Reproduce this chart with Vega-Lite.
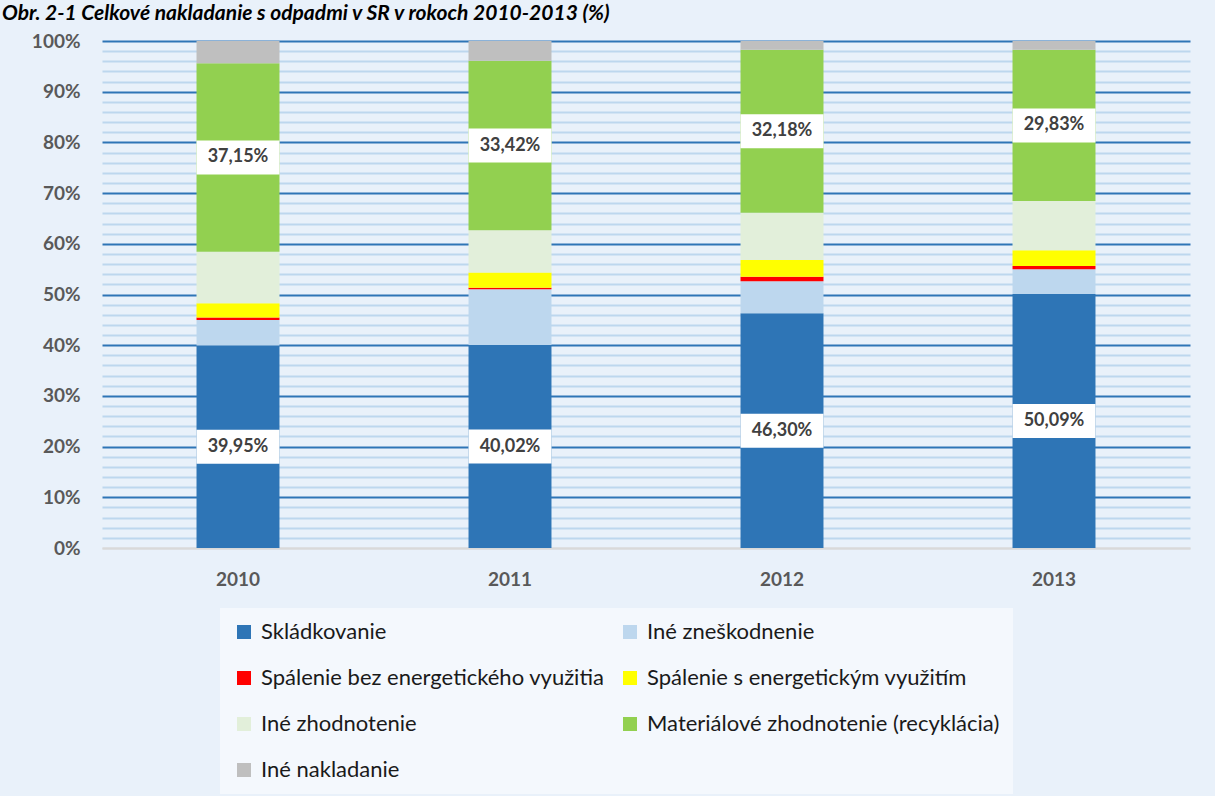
{
  "$schema": "https://vega.github.io/schema/vega-lite/v6.json",
  "autosize": {"type": "none"},
  "width": 1088,
  "height": 507,
  "padding": {"left": 102, "top": 41, "right": 25, "bottom": 248},
  "background": "#E9F1FA",
  "title": {
    "text": "Obr. 2-1 Celkové nakladanie s odpadmi v SR v rokoch 2010-2013 (%)",
    "anchor": "start",
    "frame": "group",
    "dx": -100,
    "dy": 27,
    "offset": 18,
    "baseline": "alphabetic",
    "font": "Lato",
    "fontSize": 21,
    "fontWeight": "bold",
    "fontStyle": "italic",
    "color": "#000000"
  },
  "data": {
    "values": [
      {"rok": "2010", "kategoria": "Skládkovanie", "poradie": 1, "hodnota": 0.3995},
      {"rok": "2010", "kategoria": "Iné zneškodnenie", "poradie": 2, "hodnota": 0.050},
      {"rok": "2010", "kategoria": "Spálenie bez energetického využitia", "poradie": 3, "hodnota": 0.005},
      {"rok": "2010", "kategoria": "Spálenie s energetickým využitím", "poradie": 4, "hodnota": 0.028},
      {"rok": "2010", "kategoria": "Iné zhodnotenie", "poradie": 5, "hodnota": 0.102},
      {"rok": "2010", "kategoria": "Materiálové zhodnotenie (recyklácia)", "poradie": 6, "hodnota": 0.3715},
      {"rok": "2010", "kategoria": "Iné nakladanie", "poradie": 7, "hodnota": 0.044},
      {"rok": "2011", "kategoria": "Skládkovanie", "poradie": 1, "hodnota": 0.4002},
      {"rok": "2011", "kategoria": "Iné zneškodnenie", "poradie": 2, "hodnota": 0.110},
      {"rok": "2011", "kategoria": "Spálenie bez energetického využitia", "poradie": 3, "hodnota": 0.003},
      {"rok": "2011", "kategoria": "Spálenie s energetickým využitím", "poradie": 4, "hodnota": 0.030},
      {"rok": "2011", "kategoria": "Iné zhodnotenie", "poradie": 5, "hodnota": 0.0835},
      {"rok": "2011", "kategoria": "Materiálové zhodnotenie (recyklácia)", "poradie": 6, "hodnota": 0.3342},
      {"rok": "2011", "kategoria": "Iné nakladanie", "poradie": 7, "hodnota": 0.039},
      {"rok": "2012", "kategoria": "Skládkovanie", "poradie": 1, "hodnota": 0.4630},
      {"rok": "2012", "kategoria": "Iné zneškodnenie", "poradie": 2, "hodnota": 0.063},
      {"rok": "2012", "kategoria": "Spálenie bez energetického využitia", "poradie": 3, "hodnota": 0.009},
      {"rok": "2012", "kategoria": "Spálenie s energetickým využitím", "poradie": 4, "hodnota": 0.033},
      {"rok": "2012", "kategoria": "Iné zhodnotenie", "poradie": 5, "hodnota": 0.093},
      {"rok": "2012", "kategoria": "Materiálové zhodnotenie (recyklácia)", "poradie": 6, "hodnota": 0.3218},
      {"rok": "2012", "kategoria": "Iné nakladanie", "poradie": 7, "hodnota": 0.017},
      {"rok": "2013", "kategoria": "Skládkovanie", "poradie": 1, "hodnota": 0.5009},
      {"rok": "2013", "kategoria": "Iné zneškodnenie", "poradie": 2, "hodnota": 0.049},
      {"rok": "2013", "kategoria": "Spálenie bez energetického využitia", "poradie": 3, "hodnota": 0.0065},
      {"rok": "2013", "kategoria": "Spálenie s energetickým využitím", "poradie": 4, "hodnota": 0.031},
      {"rok": "2013", "kategoria": "Iné zhodnotenie", "poradie": 5, "hodnota": 0.097},
      {"rok": "2013", "kategoria": "Materiálové zhodnotenie (recyklácia)", "poradie": 6, "hodnota": 0.2983},
      {"rok": "2013", "kategoria": "Iné nakladanie", "poradie": 7, "hodnota": 0.0173}
    ]
  },
  "layer": [
    {
      "mark": {"type": "bar", "stroke": null},
      "encoding": {
        "x": {
          "field": "rok", "type": "nominal",
          "scale": {"paddingInner": 0.695, "paddingOuter": 0.3475},
          "axis": {
            "title": null, "labelAngle": 0, "ticks": false,
            "domainColor": "#D9D9D9", "domainWidth": 2,
            "labelFont": "Lato", "labelFontSize": 19, "labelFontWeight": "bold",
            "labelColor": "#595959", "labelPadding": 22
          }
        },
        "y": {
          "field": "hodnota", "type": "quantitative", "stack": "zero",
          "scale": {"domain": [0, 1], "clamp": true, "nice": false},
          "axis": {
            "title": null,
            "values": [0,0.02,0.04,0.06,0.08,0.1,0.12,0.14,0.16,0.18,0.2,0.22,0.24,0.26,0.28,0.3,0.32,0.34,0.36,0.38,0.4,0.42,0.44,0.46,0.48,0.5,0.52,0.54,0.56,0.58,0.6,0.62,0.64,0.66,0.68,0.7,0.72,0.74,0.76,0.78,0.8,0.82,0.84,0.86,0.88,0.9,0.92,0.94,0.96,0.98,1],
            "tickCount": 100,
            "format": ".0%",
            "labelExpr": "round(datum.value*100) % 10 === 0 ? datum.label : ''",
            "labelOverlap": false,
            "ticks": false, "domain": false,
            "grid": true,
            "gridColor": {"condition": [{"test": "round(datum.value*100) === 0", "value": "#D9D9D9"}, {"test": "round(datum.value*100) % 10 === 0", "value": "#2E75B6"}], "value": "#BDD7EE"},
            "gridWidth": 2,
            "labelFont": "Lato", "labelFontSize": 19, "labelFontWeight": "bold",
            "labelColor": "#595959", "labelPadding": 22
          }
        },
        "color": {
          "field": "kategoria", "type": "nominal",
          "sort": ["Skládkovanie", "Iné zneškodnenie", "Spálenie bez energetického využitia", "Spálenie s energetickým využitím", "Iné zhodnotenie", "Materiálové zhodnotenie (recyklácia)", "Iné nakladanie"],
          "scale": {
            "domain": ["Skládkovanie", "Iné zneškodnenie", "Spálenie bez energetického využitia", "Spálenie s energetickým využitím", "Iné zhodnotenie", "Materiálové zhodnotenie (recyklácia)", "Iné nakladanie"],
            "range": ["#2E75B6", "#BDD7EE", "#FF0000", "#FFFF00", "#E2EFDA", "#92D050", "#BFBFBF"]
          },
          "legend": {
            "title": null,
            "orient": "none",
            "direction": "horizontal",
            "legendX": 118,
            "legendY": 567,
            "columns": 2,
            "columnPadding": 14,
            "rowPadding": 24,
            "padding": 13,
            "fillColor": "#F4F8FD",
            "symbolType": "square",
            "symbolSize": 196,
            "symbolStrokeWidth": 0,
            "labelOffset": 6,
            "labelFont": "Lato",
            "labelFontSize": 22,
            "labelColor": "#1A1A1A",
            "labelLimit": 0
          }
        },
        "order": {"field": "poradie", "type": "quantitative"}
      }
    },
    {
      "transform": [
        {"stack": "hodnota", "groupby": ["rok"], "sort": [{"field": "poradie", "order": "ascending"}], "as": ["y0", "y1"]},
        {"calculate": "(datum.y0 + datum.y1) / 2", "as": "stred"},
        {"filter": "datum.poradie === 1 || datum.poradie === 6"}
      ],
      "mark": {"type": "tick", "color": "#FFFFFF", "size": 83, "thickness": 34, "opacity": 1},
      "encoding": {
        "x": {"field": "rok", "type": "nominal"},
        "y": {"field": "stred", "type": "quantitative"}
      }
    },
    {
      "transform": [
        {"stack": "hodnota", "groupby": ["rok"], "sort": [{"field": "poradie", "order": "ascending"}], "as": ["y0", "y1"]},
        {"calculate": "(datum.y0 + datum.y1) / 2", "as": "stred"},
        {"filter": "datum.poradie === 1 || datum.poradie === 6"}
      ],
      "mark": {"type": "text", "font": "Lato", "fontSize": 18, "fontWeight": "bold", "color": "#404040", "baseline": "middle"},
      "encoding": {
        "x": {"field": "rok", "type": "nominal"},
        "y": {"field": "stred", "type": "quantitative"},
        "text": {"field": "hodnota", "type": "quantitative", "format": ".2%"}
      }
    }
  ],
  "config": {
    "locale": {
      "number": {"decimal": ",", "thousands": " ", "grouping": [3], "currency": ["", " €"]}
    },
    "view": {"stroke": null}
  }
}
